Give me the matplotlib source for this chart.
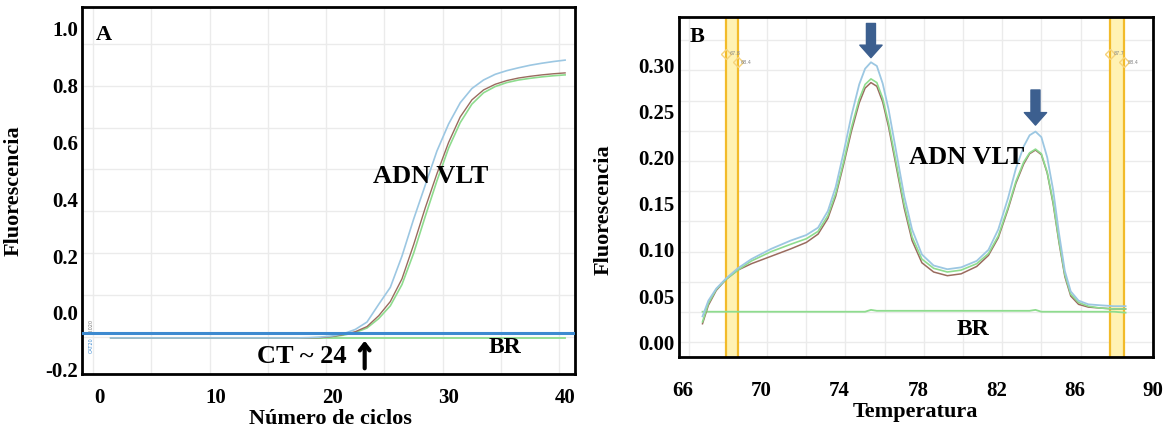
import numpy as np
import matplotlib
matplotlib.use("Agg")
import matplotlib.pyplot as plt

plt.rcParams['font.family'] = ['Liberation Serif', 'DejaVu Serif']
plt.rcParams['font.weight'] = 'bold'

# ---- panel A : amplification curves (fluorescence per cycle) ----
cycles = list(range(1, 41))
amp_blue = [-0.088] * 17 + [-0.087, -0.085, -0.081, -0.073, -0.058, -0.032, 0.03, 0.09, 0.20,
                            0.33, 0.45, 0.57, 0.665, 0.74, 0.79, 0.82, 0.84, 0.853, 0.863,
                            0.872, 0.879, 0.885, 0.89]
amp_brown = [-0.088] * 17 + [-0.088, -0.087, -0.083, -0.076, -0.066, -0.048, -0.01, 0.04, 0.12,
                             0.24, 0.37, 0.49, 0.60, 0.69, 0.75, 0.785, 0.805, 0.818, 0.827,
                             0.833, 0.838, 0.842, 0.845]
amp_green = [-0.088] * 17 + [-0.088, -0.087, -0.084, -0.078, -0.069, -0.053, -0.02, 0.025, 0.10,
                             0.21, 0.34, 0.465, 0.58, 0.67, 0.735, 0.775, 0.797, 0.811, 0.82,
                             0.826, 0.831, 0.835, 0.838]
amp_br = [-0.088] * 40
threshold = -0.070
ct_value = 22.8

# ---- panel B : melting curves ----
temps = [67.0, 67.3, 67.7, 68.2, 68.8, 69.5, 70.5, 71.5, 72.3, 72.9, 73.4, 73.8, 74.2, 74.6,
         75.0, 75.3, 75.6, 75.9, 76.2, 76.5, 76.9, 77.3, 77.7, 78.2, 78.8, 79.5, 80.2, 81.0,
         81.6, 82.1, 82.6, 83.0, 83.4, 83.7, 84.0, 84.3, 84.6, 84.9, 85.2, 85.5, 85.8, 86.2,
         86.7, 87.3, 88.0, 88.6]
melt_blue = [0.028, 0.045, 0.058, 0.069, 0.080, 0.090, 0.101, 0.110, 0.116, 0.124, 0.142, 0.168,
             0.205, 0.245, 0.279, 0.296, 0.303, 0.299, 0.280, 0.252, 0.205, 0.158, 0.122, 0.095,
             0.083, 0.079, 0.081, 0.088, 0.100, 0.122, 0.156, 0.188, 0.212, 0.224, 0.228, 0.222,
             0.200, 0.165, 0.118, 0.077, 0.055, 0.045, 0.041, 0.040, 0.039, 0.039]
melt_green = [0.022, 0.042, 0.057, 0.068, 0.078, 0.088, 0.098, 0.106, 0.112, 0.120, 0.137, 0.161,
              0.195, 0.232, 0.263, 0.279, 0.285, 0.281, 0.264, 0.237, 0.193, 0.149, 0.114, 0.090,
              0.080, 0.076, 0.078, 0.085, 0.096, 0.115, 0.146, 0.174, 0.195, 0.205, 0.209, 0.204,
              0.184, 0.152, 0.110, 0.073, 0.052, 0.043, 0.039, 0.037, 0.036, 0.036]
melt_brown = [0.020, 0.040, 0.056, 0.068, 0.078, 0.085, 0.093, 0.101, 0.108, 0.117, 0.134, 0.158,
              0.192, 0.228, 0.259, 0.275, 0.281, 0.277, 0.260, 0.233, 0.189, 0.145, 0.110, 0.086,
              0.076, 0.072, 0.074, 0.082, 0.094, 0.113, 0.144, 0.172, 0.193, 0.204, 0.208, 0.203,
              0.183, 0.150, 0.108, 0.071, 0.050, 0.041, 0.038, 0.037, 0.036, 0.036]
melt_br = [0.033] * 16 + [0.035] + [0.034] * 17 + [0.035] + [0.033] * 10 + [0.032]
bands = [(68.18, 68.79), (87.83, 88.54)]
band_marks = [("67.8", "68.4"), ("87.7", "88.4")]
peaks = [(75.6, 0.308, 0.345), (84.0, 0.235, 0.273)]

c_blue = '#9cc7e2'
c_green = '#8edc8e'
c_brown = '#9a6b5e'
c_grid = '#ebebeb'

fig = plt.figure(figsize=(11.63, 4.30), dpi=100)
axA = fig.add_axes([82 / 1163, 1 - 374 / 430, 493 / 1163, 367 / 430])
axB = fig.add_axes([679 / 1163, 1 - 357 / 430, 474 / 1163, 340 / 430])

# panel A
axA.set_xlim(-1.46, 40.85)
axA.set_ylim(-0.215, 1.077)
for gx in np.arange(0, 41, 5):
    axA.axvline(gx - 0.5, color=c_grid, lw=1, zorder=0)
for gy in np.arange(-0.085, 1.0, 0.1475):
    axA.axhline(gy, color=c_grid, lw=1, zorder=0)
axA.plot(cycles, amp_br, color=c_green, lw=1.3, zorder=2)
axA.plot(cycles[:3], amp_br[:3], color='#4f9a4f', lw=1.3, zorder=2)
axA.plot(cycles, amp_green, color=c_green, lw=1.2, zorder=3)
axA.plot(cycles, amp_brown, color=c_brown, lw=1.0, zorder=3)
axA.plot(cycles, amp_blue, color=c_blue, lw=1.2, zorder=3)
axA.axhline(threshold, color='#3d8ad0', lw=2.2, zorder=4)
axA.text(-0.65, -0.045, '0.020', fontsize=3.5, color='#777777', rotation=90,
         ha='center', va='center', fontweight='normal', family='DejaVu Sans')
axA.text(-0.65, -0.115, 'CAT20', fontsize=3.5, color='#3d8ad0', rotation=90,
         ha='center', va='center', fontweight='normal', family='DejaVu Sans')
axA.set_xticks([0, 10, 20, 30, 40])
axA.set_yticks([-0.2, 0.0, 0.2, 0.4, 0.6, 0.8, 1.0])
axA.set_yticklabels(['-0.2', '0.0', '0.2', '0.4', '0.6', '0.8', '1.0'])
axA.tick_params(axis='x', length=0, pad=10, labelsize=15)
axA.tick_params(axis='y', length=0, pad=3, labelsize=15)
axA.set_ylabel('Fluorescencia', fontsize=16, fontweight='bold')
axA.yaxis.set_label_coords(-0.118, 0.5)
axA.set_xlabel('Número de ciclos', fontsize=16, fontweight='bold')
axA.xaxis.label.set_va('center')
axA.xaxis.set_label_coords(0.503, -0.122)
axA.text(0.4, 0.98, 'A', fontsize=16, fontweight='bold', va='center', ha='center')
axA.text(28.5, 0.48, 'ADN VLT', fontsize=19, fontweight='bold', ha='center', va='center')
axA.text(17.4, -0.155, 'CT ~ 24', fontsize=19, fontweight='bold', ha='center', va='center')
axA.annotate('', xy=(ct_value, -0.098), xytext=(ct_value, -0.195),
             arrowprops=dict(arrowstyle='->,head_width=0.35,head_length=0.45',
                             lw=3, color='black', shrinkA=0, shrinkB=0))
axA.text(34.8, -0.12, 'BR', fontsize=17, fontweight='bold', ha='center', va='center')
for sp in axA.spines.values():
    sp.set_linewidth(2)

# panel B
axB.set_xlim(65.8, 90.0)
axB.set_ylim(-0.016, 0.352)
for gx in np.arange(66, 91, 2):
    axB.axvline(gx + 0.3, color=c_grid, lw=1, zorder=0)
for gy in np.arange(0, 0.35, 0.0327):
    axB.axhline(gy, color=c_grid, lw=1, zorder=0)
for (t0, t1), (m0, m1) in zip(bands, band_marks):
    axB.axvspan(t0, t1, color='#fff2b3', zorder=1, lw=0)
    axB.axvline(t0, color='#f2bb2a', lw=1.6, zorder=1)
    axB.axvline(t1, color='#f2bb2a', lw=1.6, zorder=1)
    axB.plot([t0, t1], [0.312, 0.303], 'D', mfc='none', mec='#f5d27a', ms=5, zorder=2)
    axB.text(t0 + 0.18, 0.312, m0, fontsize=3.5, color='#888888', va='center',
             fontweight='normal', family='DejaVu Sans')
    axB.text(t1 + 0.18, 0.303, m1, fontsize=3.5, color='#888888', va='center',
             fontweight='normal', family='DejaVu Sans')
axB.plot(temps, melt_br, color=c_green, lw=1.3, zorder=3)
axB.plot(temps, melt_brown, color=c_brown, lw=1.1, zorder=3)
axB.plot(temps, melt_green, color=c_green, lw=1.2, zorder=3)
axB.plot(temps, melt_blue, color=c_blue, lw=1.3, zorder=3)
for tx, ytip, ytail in peaks:
    axB.annotate('', xy=(tx, ytip), xytext=(tx, ytail),
                 arrowprops=dict(arrowstyle='simple,head_width=1.6,head_length=0.9,tail_width=0.65',
                                 mutation_scale=10, color='#3c5f8f', shrinkA=0, shrinkB=0))
axB.set_xticks([66, 70, 74, 78, 82, 86, 90])
axB.set_yticks([0.0, 0.05, 0.10, 0.15, 0.20, 0.25, 0.30])
axB.set_yticklabels(['0.00', '0.05', '0.10', '0.15', '0.20', '0.25', '0.30'])
axB.tick_params(axis='x', length=0, pad=17, labelsize=15)
axB.tick_params(axis='y', length=0, pad=3, labelsize=15)
axB.set_ylabel('Fluorescencia', fontsize=16, fontweight='bold')
axB.yaxis.set_label_coords(-0.137, 0.432)
axB.set_xlabel('Temperatura', fontsize=16, fontweight='bold')
axB.xaxis.label.set_va('center')
axB.xaxis.set_label_coords(0.498, -0.162)
axB.text(66.7, 0.330, 'B', fontsize=16, fontweight='bold', va='center', ha='center')
axB.text(80.5, 0.200, 'ADN VLT', fontsize=19, fontweight='bold', ha='center', va='center')
axB.text(80.8, 0.014, 'BR', fontsize=17, fontweight='bold', ha='center', va='center')
for sp in axB.spines.values():
    sp.set_linewidth(2)

fig.savefig('out.png', dpi=100)
